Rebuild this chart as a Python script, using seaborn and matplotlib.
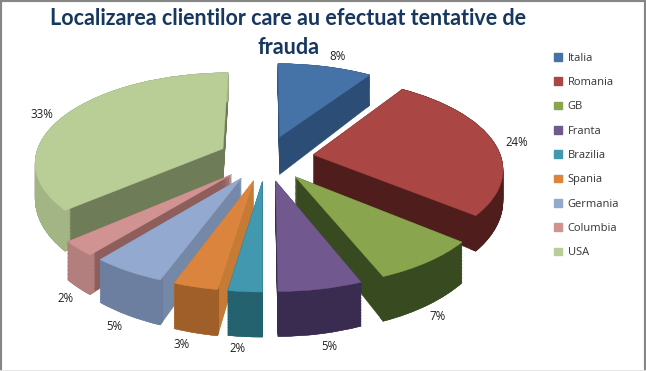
import numpy as np
import seaborn as sns
from matplotlib import pyplot as plt
from matplotlib.patches import Patch
from matplotlib.transforms import Transform

# values, they round to the printed % labels
tari = ['Italia', 'Romania', 'GB', 'Franta', 'Brazilia', 'Spania', 'Germania', 'Columbia', 'USA']
procente = [8.45, 23.8, 7.1, 5.45, 2.2, 2.9, 4.8, 2.4, 32.6]
titlu = 'Localizarea clientilor care au efectuat tentative de\nfrauda'

top_colors = sns.color_palette(['#4572a7', '#aa4643', '#89a54e', '#71588f', '#4198af',
                                '#db843d', '#93a9cf', '#d19392', '#b9cd96'])
side_colors = ['#2c4d75', '#4f1d1c', '#384a1f', '#3a2c50', '#25626f',
               '#c57a35', '#7588a8', '#8e5e5d', '#6e7c58']
rim_colors = ['#2c4d75', '#4f1d1c', '#384a1f', '#3a2c50', '#25626f',
              '#a05f28', '#6c7fa0', '#b37f7e', '#a3b585']
explode = [0.255] * 9
depth = [40, 30, 32, 31, 31, 32, 32, 30, 35]
wall_order = [0, 8, 1, 7, 2, 6, 5, 3, 4]
label_xy = [(338, 57), (517, 143), (438, 317), (329, 347), (237, 348),
            (182, 344), (114, 326), (65, 299), (42, 114)]

CX, CY, RX, RY, K = 266, 158, 188, 88.6, 0.136
LAYERS = 30


# unit circle -> pixels, tilted and with perspective, z pushes the layer down
class Tilt(Transform):
    input_dims = 2
    output_dims = 2
    is_affine = False

    def __init__(self, z=0):
        super().__init__()
        self.z = z

    def transform_non_affine(self, values):
        values = np.asarray(values)
        x, y = values[:, 0], values[:, 1]
        s = 1 / (1 + K * y)
        return np.column_stack([CX + RX * x * s, CY - RY * y * s + self.z * s ** 2])


def draw_pie(colors, z_scale, zorders, **wedgeprops):
    wedges, _ = ax.pie(procente, explode=explode, startangle=90, counterclock=False,
                       wedgeprops=wedgeprops)
    for i, w in enumerate(wedges):
        w.set_transform(Tilt(z_scale * depth[i]) + ax.transData)
        w.set_facecolor(colors[i])
        w.set_edgecolor(colors[i])
        w.set_linewidth(0.3)
        w.set_zorder(zorders[i])


sns.set_theme(style='white')
plt.rcParams['font.family'] = ['Open Sans', 'DejaVu Sans']

fig = plt.figure(figsize=(6.46, 3.71), dpi=100)
ax = fig.add_axes([0, 0, 1, 1])

wall_z = [wall_order.index(i) * 10 for i in range(9)]
for f in np.linspace(1, 0, LAYERS):
    draw_pie(side_colors, f, [z + 1 for z in wall_z])
    draw_pie(rim_colors, f, [z + 2 for z in wall_z], width=0.03)
draw_pie(top_colors, 0, [200] * 9)

ax.set_aspect('auto')
ax.set_xlim(0, 646)
ax.set_ylim(371, 0)
ax.set_xticks([])
ax.set_yticks([])
ax.set_frame_on(True)
for side in ['left', 'top', 'right']:
    ax.spines[side].set_color('#868686')
    ax.spines[side].set_linewidth(3)
ax.spines['bottom'].set_color('#e4e4e4')
ax.spines['bottom'].set_linewidth(2)

ax.text(288, 33, titlu, ha='center', va='center', fontsize=15.5, fontweight='bold',
        family=['Lato', 'DejaVu Sans'], color='#17375e', linespacing=1.42, zorder=300)

for v, (x, y) in zip(procente, label_xy):
    ax.text(x, y, f'{v:.0f}%', ha='center', va='center', fontsize=8.3, color='#222222', zorder=300)

handles = [Patch(color=c) for c in top_colors]
ax.legend(handles, tari, loc='upper left', bbox_to_anchor=(0.858, 0.858), frameon=False,
          fontsize=8, labelcolor='#333333', handlelength=0.7, handleheight=0.7,
          handletextpad=0.5, labelspacing=1.2, borderpad=0, borderaxespad=0)

fig.savefig('out.png', dpi=100)
